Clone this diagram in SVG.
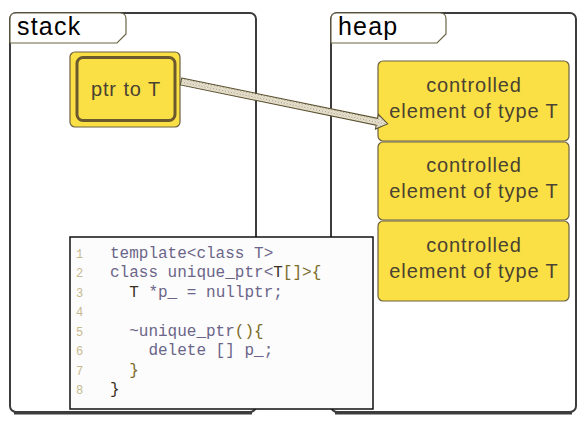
<svg xmlns="http://www.w3.org/2000/svg" width="585" height="424" viewBox="0 0 585 424">
<defs>
<pattern id="stip" width="3" height="3" patternUnits="userSpaceOnUse">
<rect width="3" height="3" fill="#ece6d2"/>
<rect x="0" y="0" width="1" height="1" fill="#9a927e"/>
<rect x="1.5" y="1.5" width="1" height="1" fill="#b0a892"/>
</pattern>
</defs>
<style>
.frame{fill:#fff;stroke:#3c3c3c;stroke-width:2}
.shadow{fill:none;stroke:#3c3c3c;stroke-width:3}
.tab{fill:#fff;stroke:#6b6444;stroke-width:1.2}
.tabtxt{font-family:"Liberation Sans",Arial,sans-serif;font-size:25px;letter-spacing:1.2px;fill:#000}
.cell{fill:#fbe045;stroke:#6b6040;stroke-width:1.2}
.txt{font-family:"Liberation Sans",Arial,sans-serif;font-size:20px;letter-spacing:0.9px;fill:#4a4232;text-anchor:middle}
.code{font-family:"Liberation Mono","DejaVu Sans Mono",monospace;font-size:16px;fill:#6b6589;white-space:pre}
.ln{font-family:"Liberation Mono",monospace;font-size:12px;fill:#c6b98e}
.ol{fill:#7a6a28}
.dk{fill:#3a3020}
</style>
<g id="stack">
<rect class="frame" x="10" y="13" width="246" height="399" rx="6"/>
<path class="shadow" d="M14,413 H252"/>
<path class="tab" d="M10,43 V19 Q10,13 16,13 H120 Q126,13 126,19 V34 L117,43 Z"/>
<text class="tabtxt" x="17" y="35">stack</text>
</g>
<g id="heap">
<rect class="frame" x="331" y="13" width="245" height="399" rx="6"/>
<path class="shadow" d="M335,413 H572"/>
<path class="tab" d="M331,43 V19 Q331,13 337,13 H440 Q446,13 446,19 V34 L437,43 Z"/>
<text class="tabtxt" x="338" y="35">heap</text>
</g>
<g id="ptr">
<rect class="cell" x="70" y="52" width="110" height="75" rx="5"/>
<rect x="77" y="57.5" width="98" height="63" rx="6" fill="none" stroke="#6b5a2e" stroke-width="3"/>
<text class="txt" x="126" y="96">ptr to T</text>
</g>
<g id="elem1">
<rect class="cell" x="378" y="61" width="191" height="80" rx="5"/>
<text class="txt" x="474" y="92">controlled</text>
<text class="txt" x="474" y="118">element of type T</text>
</g>
<g id="elem2">
<rect class="cell" x="378" y="142" width="191" height="78" rx="5"/>
<text class="txt" x="474" y="172">controlled</text>
<text class="txt" x="474" y="198">element of type T</text>
</g>
<g id="elem3">
<rect class="cell" x="378" y="221" width="191" height="80" rx="5"/>
<text class="txt" x="474" y="252">controlled</text>
<text class="txt" x="474" y="278">element of type T</text>
</g>
<g id="connectors">
<g transform="translate(181,81.5) rotate(11.6)">
<path d="M0,-3.5 H200 V-7.5 L211,0 L200,7.5 V3.5 H0 Z" fill="url(#stip)" stroke="#5a5030" stroke-width="1"/>
</g>
</g>
<g id="code">
<rect x="70" y="237" width="303" height="172" fill="#fcfcfc" stroke="#111" stroke-width="1.5"/>
<text class="ln" x="76" y="258">1</text>
<text class="ln" x="76" y="277">2</text>
<text class="ln" x="76" y="297">3</text>
<text class="ln" x="76" y="316">4</text>
<text class="ln" x="76" y="336">5</text>
<text class="ln" x="76" y="355">6</text>
<text class="ln" x="76" y="375">7</text>
<text class="ln" x="76" y="394">8</text>
<text class="code" x="110" y="258">template&lt;class T&gt;</text>
<text class="code" x="110" y="277">class unique_ptr&lt;<tspan class="dk">T</tspan><tspan class="ol">[]&gt;{</tspan></text>
<text class="code" x="110" y="297">  <tspan class="dk">T</tspan> *p_ = nullptr;</text>
<text class="code" x="110" y="336">  ~unique_ptr<tspan class="ol">(){</tspan></text>
<text class="code" x="110" y="355">    delete [] p_;</text>
<text class="code" x="110" y="375">  <tspan class="ol">}</tspan></text>
<text class="code" x="110" y="394"><tspan class="dk">}</tspan></text>
</g>
</svg>
